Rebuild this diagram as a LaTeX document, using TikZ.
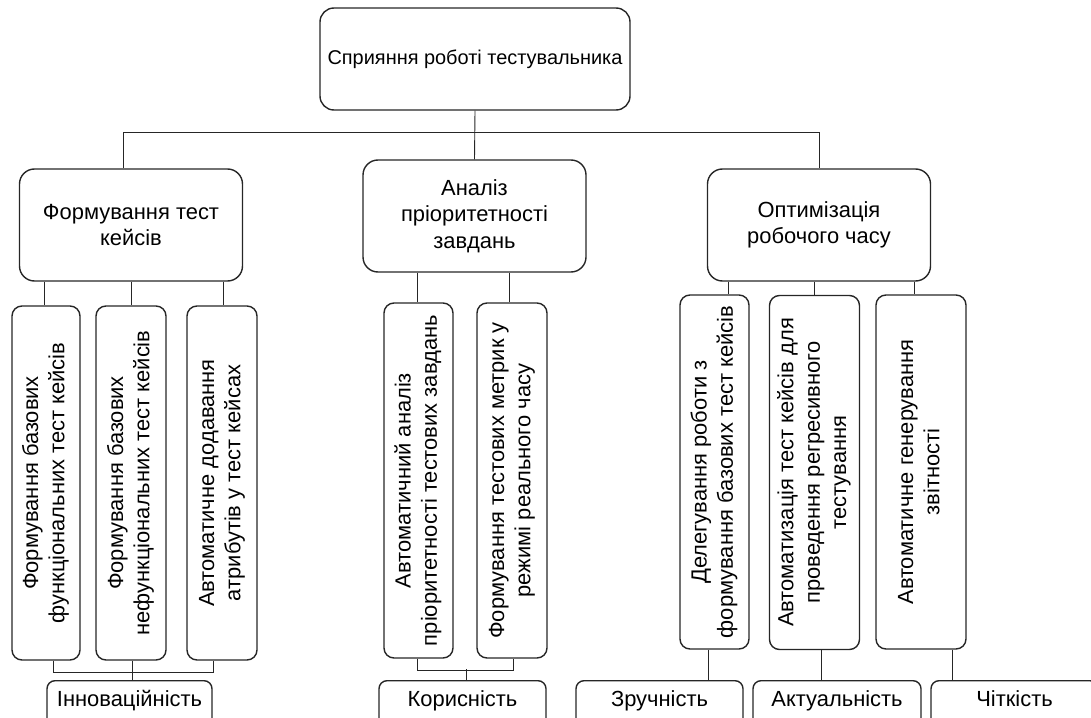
\documentclass[tikz,border=0pt]{standalone}
\usepackage{fontspec}
\setmainfont{Liberation Sans}
\usetikzlibrary{positioning}

\tikzset{
    topbox/.style={draw=black!85, line width=1.4bp, rounded corners=14bp,
        minimum width=310bp, minimum height=102bp, inner sep=0pt,
        font=\fontsize{20}{24}\selectfont},
    groupbox/.style={draw=black!85, line width=1.4bp, rounded corners=15bp,
        minimum width=223bp, minimum height=112bp, inner sep=0pt, align=center,
        font=\fontsize{22}{26.5}\selectfont},
    vbox/.style={draw=black!85, line width=1.4bp, rounded corners=10bp,
        minimum height=354bp, inner sep=0pt,
        font=\fontsize{22}{26.5}\selectfont},
    qualbox/.style={draw=black!85, line width=1.4bp, rounded corners=8bp,
        anchor=north, minimum width=167bp, inner xsep=0pt, inner ysep=0pt,
        text height=26bp, text depth=30bp,
        font=\fontsize{22}{26.5}\selectfont},
    link/.style={line width=0.9bp, draw=black!85}
}
\newcommand{\vtext}[1]{\rotatebox{90}{\begin{tabular}{@{}c@{}}#1\end{tabular}}}

\begin{document}
\begin{tikzpicture}[x=1bp, y=-1bp]
    \useasboundingbox (0,0) rectangle (1091,718);
    \clip (0,0) rectangle (1091,718);

    % goal
    \node[topbox] (top) at (475, 59) {Сприяння роботі тестувальника};

    % groups
    \node[groupbox] (fh) at (131, 225) {Формування тест\\кейсів};
    \node[groupbox] (an) at (474.5, 216) {Аналіз\\пріоритетності\\завдань};
    \node[groupbox] (ot) at (819, 225) {Оптимізація\\робочого часу};

    % functions
    \node[vbox, minimum width=68bp] (f1) at (46, 483) {\vtext{Формування базових\\функціональних тест кейсів}};
    \node[vbox, minimum width=70bp] (f2) at (131, 483) {\vtext{Формування базових\\нефункціональних тест кейсів}};
    \node[vbox, minimum width=70bp] (f3) at (222, 483) {\vtext{Автоматичне додавання\\атрибутів у тест кейсах}};
    \node[vbox, minimum width=69bp, minimum height=355bp] (a1) at (418.5, 480.5) {\vtext{Автоматичний аналіз\\пріоритетності тестових завдань}};
    \node[vbox, minimum width=70bp, minimum height=355bp] (a2) at (512, 480.5) {\vtext{Формування тестових метрик у\\режимі реального часу}};
    \node[vbox, minimum width=69bp] (o1) at (714.5, 472) {\vtext{Делегування роботи з\\формування базових тест кейсів}};
    \node[vbox, minimum width=90bp] (o2) at (814.5, 472.5) {\vtext{Автоматизація тест кейсів для\\проведення регресивного\\тестування}};
    \node[vbox, minimum width=90bp] (o3) at (921, 472) {\vtext{Автоматичне генерування\\звітності}};

    % qualities
    \node[qualbox, minimum width=165bp] (inn) at (129.5, 680) {Інноваційність};
    \node[qualbox] (kor) at (462.5, 680) {Корисність};
    \node[qualbox] (zr) at (659.5, 680) {Зручність};
    \node[qualbox, minimum width=168bp] (ak) at (837, 680) {Актуальність};
    \node[qualbox] (ch) at (1014.5, 680) {Чіткість};

    % links
    \draw[link] (top.south) -- (an.north);
    \draw[link] (fh.north -| 123,0) -- ++(0,-36) -| (ot.north);

    \draw[link] (fh.south -| 44,0) -- (f1.north -| 44,0);
    \draw[link] (fh.south -| 131,0) -- (f2.north -| 131,0);
    \draw[link] (fh.south -| 223,0) -- (f3.north -| 223,0);
    \draw[link] (an.south -| 417,0) -- (a1.north -| 417,0);
    \draw[link] (an.south -| 509,0) -- (a2.north -| 509,0);
    \draw[link] (ot.south -| 728,0) -- (o1.north -| 728,0);
    \draw[link] (ot.south -| 814,0) -- (o2.north -| 814,0);
    \draw[link] (ot.south -| 914,0) -- (o3.north -| 914,0);

    \draw[link] (f1.south -| 53,0) -- ++(0,12) -| (f3.south -| 213,0);
    \draw[link] (f2.south -| 132,0) -- (inn.north -| 132,0);
    \draw[link] (a1.south -| 417,0) -- ++(0,12) -| (a2.south -| 513,0);
    \draw[link] (kor.north -| 466,0) -- ++(0,-11);
    \draw[link] (o1.south -| 708,0) -- (zr.north -| 708,0);
    \draw[link] (o2.south -| 821,0) -- (ak.north -| 821,0);
    \draw[link] (o3.south -| 952,0) -- (ch.north -| 952,0);
\end{tikzpicture}
\end{document}
